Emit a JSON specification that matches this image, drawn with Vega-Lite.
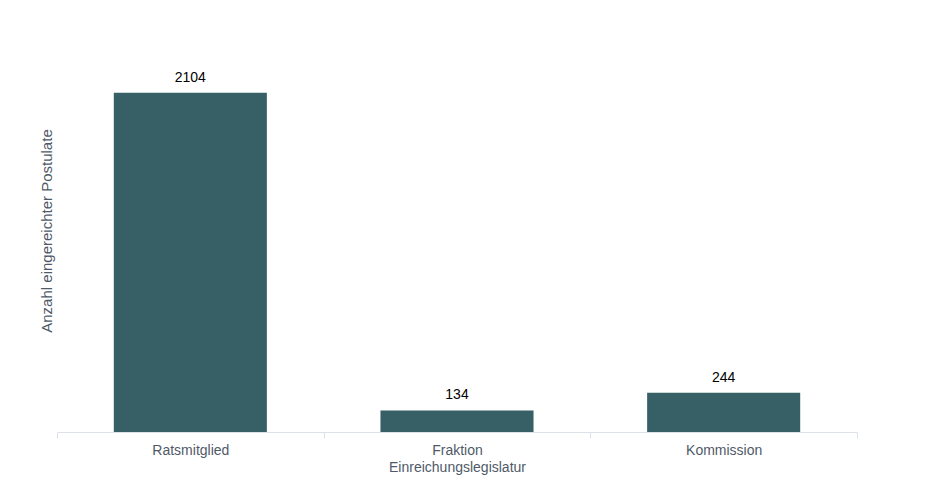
{
  "$schema": "https://vega.github.io/schema/vega-lite/v6.json",
  "width": 800,
  "height": 403,
  "autosize": {"type": "none"},
  "padding": {"left": 57, "top": 29, "right": 88, "bottom": 67},
  "background": "white",
  "config": {
    "view": {"stroke": null},
    "font": "Liberation Sans"
  },
  "data": {
    "values": [
      {"Einreichungslegislatur": "Ratsmitglied", "Anzahl": 2104},
      {"Einreichungslegislatur": "Fraktion", "Anzahl": 134},
      {"Einreichungslegislatur": "Kommission", "Anzahl": 244}
    ]
  },
  "encoding": {
    "x": {
      "field": "Einreichungslegislatur",
      "type": "nominal",
      "sort": null,
      "scale": {"paddingInner": 0, "paddingOuter": 0},
      "axis": {
        "title": "Einreichungslegislatur",
        "labelAngle": 0,
        "labelFont": "Liberation Sans",
        "labelFontSize": 14,
        "labelColor": "#4f5a68",
        "labelPadding": 5,
        "titleFont": "Liberation Sans",
        "titleFontSize": 14,
        "titleFontWeight": "normal",
        "titleColor": "#4f5a68",
        "titlePadding": 3,
        "domainColor": "#dde2ea",
        "tickColor": "#dde2ea",
        "tickSize": 6,
        "tickBand": "extent",
        "grid": false
      }
    },
    "y": {
      "field": "Anzahl",
      "type": "quantitative",
      "scale": {"domain": [0, 2500], "nice": false},
      "axis": {
        "title": "Anzahl eingereichter Postulate",
        "labels": false,
        "ticks": false,
        "domain": false,
        "grid": false,
        "titleFont": "Liberation Sans",
        "titleFontSize": 15,
        "titleFontWeight": "normal",
        "titleColor": "#4f5a68",
        "titlePadding": 3
      }
    }
  },
  "layer": [
    {"mark": {"type": "bar", "color": "#365f66", "width": {"band": 0.574}}},
    {
      "mark": {"type": "text", "dy": -8, "baseline": "bottom", "font": "Liberation Sans", "fontSize": 14, "color": "#000000"},
      "encoding": {"text": {"field": "Anzahl", "type": "quantitative"}}
    }
  ]
}
